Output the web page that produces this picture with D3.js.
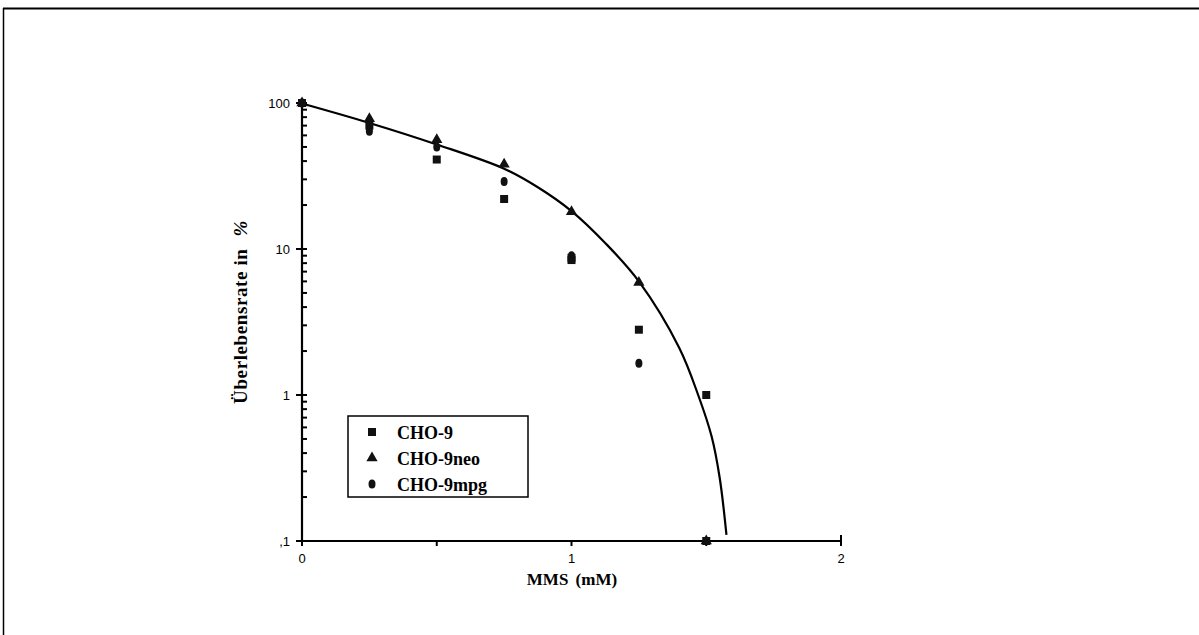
<!DOCTYPE html>
<html><head><meta charset="utf-8">
<script src="https://cdn.jsdelivr.net/npm/d3@7"></script>
<style>body{margin:0;background:#fff}svg{display:block}</style>
</head><body>
<svg id="c" width="1199" height="635"></svg>
<script>
// ---- data ----
const seriesNames = ["CHO-9", "CHO-9neo", "CHO-9mpg"];
const doses = [0, 0.25, 0.5, 0.75, 1.0, 1.25, 1.5];
const cho9    = [100, 70, 41, 22, 8.7, 2.8, 1.0];
const cho9b   = [null, null, null, null, 8.4, null, 0.1];
const cho9neo = [100, 78, 56, 38, 18, 5.9, 0.1];
const cho9mpg = [100, 64, 50, 29, 9, 1.65, null];
const fitX = [0.01, 0.25, 0.5, 0.75, 0.875, 1.0, 1.125, 1.25, 1.4, 1.47, 1.52, 1.55, 1.575];
const fitY = [98, 73, 52, 35.5, 26.5, 18.2, 11, 6.0, 2.1, 1.0, 0.52, 0.27, 0.11];
const xTicks = [0, 1, 2];
const yTicks = [100, 10, 1, 0.1];
const yTickLabels = ["100", "10", "1", ",1"];

// ---- layout ----
const svg = d3.select("#c");
const x = d3.scaleLinear().domain([0, 2]).range([302, 841]);
const y = d3.scaleLog().domain([0.1, 100]).range([541, 103]);

// frame
svg.append("line").attr("x1",3).attr("x2",1199).attr("y1",8.5).attr("y2",8.5).attr("stroke","#000").attr("stroke-width",2);
svg.append("line").attr("x1",3.5).attr("x2",3.5).attr("y1",8).attr("y2",635).attr("stroke","#000").attr("stroke-width",1.5);

// y axis
const yAxis = svg.append("g");
yAxis.append("line").attr("x1",302).attr("x2",302).attr("y1",y(100)).attr("y2",y(0.1)).attr("stroke","#000").attr("stroke-width",2.2);
yTicks.forEach((t,i)=>{
  yAxis.append("line").attr("x1",296).attr("x2",307).attr("y1",y(t)).attr("y2",y(t)).attr("stroke","#000").attr("stroke-width",2);
  yAxis.append("text").attr("x",290).attr("y",y(t)+4.5).attr("text-anchor","end")
    .attr("font-family","Liberation Sans, Arial, sans-serif").attr("font-size",13).text(yTickLabels[i]);
});
[0.1,1,10].forEach(d=>{
  for(let k=2;k<=9;k++){
    const v=d*k;
    yAxis.append("line").attr("x1",302).attr("x2",307).attr("y1",y(v)).attr("y2",y(v)).attr("stroke","#000").attr("stroke-width",2);
  }
});

// x axis
const xAxis = svg.append("g");
xAxis.append("line").attr("x1",x(0)).attr("x2",x(2)).attr("y1",541).attr("y2",541).attr("stroke","#000").attr("stroke-width",2.2);
[0,0.5,1,1.5,2].forEach(t=>{
  xAxis.append("line").attr("x1",x(t)).attr("x2",x(t)).attr("y1",t===2?535:541).attr("y2",546).attr("stroke","#000").attr("stroke-width",2);
});
xTicks.forEach(t=>{
  xAxis.append("text").attr("x",x(t)).attr("y",563).attr("text-anchor","middle")
    .attr("font-family","Liberation Sans, Arial, sans-serif").attr("font-size",13).text(t);
});

// titles
svg.append("text").attr("x",572).attr("y",585).attr("text-anchor","middle")
  .attr("font-family","Liberation Serif, Times New Roman, serif").attr("font-weight","bold").attr("font-size",17)
  .attr("word-spacing",3).text("MMS (mM)");
const yt = svg.append("text").attr("transform","translate(247,312) rotate(-90)").attr("text-anchor","middle")
  .attr("font-family","Liberation Serif, Times New Roman, serif").attr("font-weight","bold").attr("font-size",19)
  .attr("letter-spacing",0.6);
yt.append("tspan").text("Überlebensrate in");
yt.append("tspan").attr("dx",12).attr("font-style","italic").text("%");

// fit curve
const fit = fitX.map((v,i)=>[v,fitY[i]]);
svg.append("path").datum(fit).attr("fill","none").attr("stroke","#000").attr("stroke-width",2.2)
  .attr("d", d3.line().x(d=>x(d[0])).y(d=>y(d[1])).curve(d3.curveCatmullRom.alpha(0.5)));

// markers
const tri = d3.symbol().type(d3.symbolTriangle).size(55);
function drawSquare(g,cx,cy){ g.append("rect").attr("x",cx-4).attr("y",cy-4).attr("width",8).attr("height",8).attr("fill","#111"); }
function drawTri(g,cx,cy){ g.append("path").attr("d",tri()).attr("transform",`translate(${cx},${cy})`).attr("fill","#111"); }
function drawCirc(g,cx,cy){ g.append("ellipse").attr("cx",cx).attr("cy",cy).attr("rx",3.5).attr("ry",4.5).attr("fill","#111"); }
const pts = svg.append("g");
doses.forEach((d,i)=>{
  if(cho9mpg[i]!=null) drawCirc(pts,x(d),y(cho9mpg[i]));
  if(cho9neo[i]!=null) drawTri(pts,x(d),y(cho9neo[i]));
  if(cho9[i]!=null) drawSquare(pts,x(d),y(cho9[i]));
  if(cho9b[i]!=null) drawSquare(pts,x(d),y(cho9b[i]));
});

// legend
const lg = svg.append("g");
lg.append("rect").attr("x",348).attr("y",416).attr("width",180).attr("height",81).attr("fill","#fff").attr("stroke","#000").attr("stroke-width",1.5);
const drawers=[drawSquare,drawTri,drawCirc];
seriesNames.forEach((n,i)=>{
  const cy=433+i*26;
  drawers[i](lg,372,cy-1);
  lg.append("text").attr("x",397).attr("y",cy+6).attr("font-family","Liberation Serif, Times New Roman, serif")
    .attr("font-weight","bold").attr("font-size",18).text(n);
});
</script>
</body></html>
